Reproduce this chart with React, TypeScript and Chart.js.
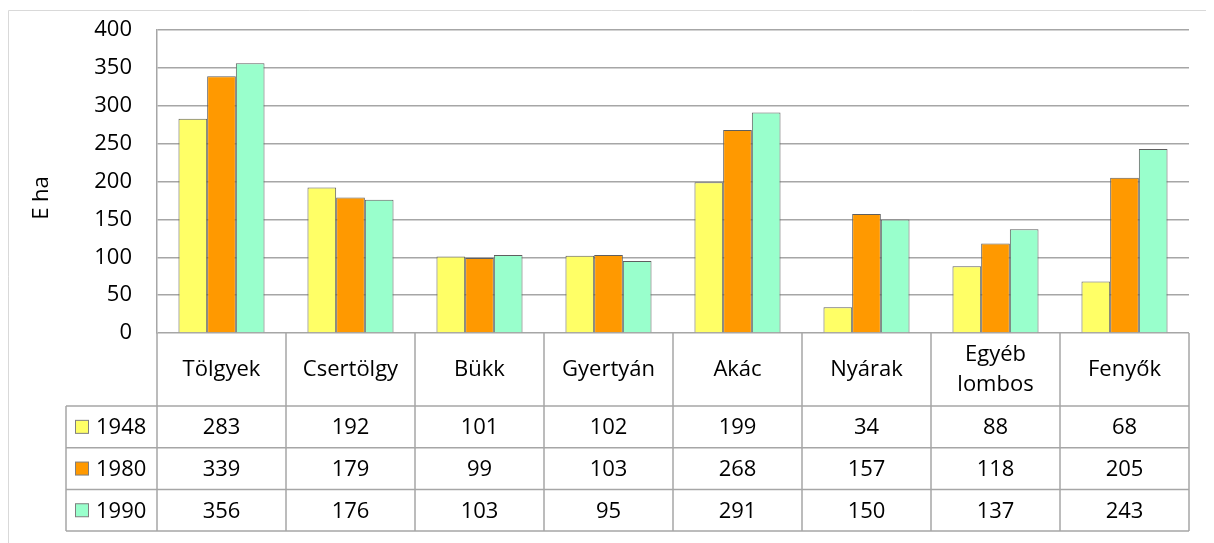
import React, { useEffect, useRef } from "react";
import { Chart, registerables } from "chart.js";

Chart.register(...registerables);

const categories = ["Tölgyek", "Csertölgy", "Bükk", "Gyertyán", "Akác", "Nyárak", "Egyéb\nlombos", "Fenyők"];
const seriesNames = ["1948", "1980", "1990"];
const values1948 = [283, 192, 101, 102, 199, 34, 88, 68];
const values1980 = [339, 179, 99, 103, 268, 157, 118, 205];
const values1990 = [356, 176, 103, 95, 291, 150, 137, 243];
const seriesColors = ["#FFFF66", "#FF9900", "#99FFCC"];
const yTitle = "E ha";

const FONT = "'Open Sans', 'Noto Sans', sans-serif";
const GRID = "#a6a6a6";

const tablePlugin = {
  id: "dataTable",
  afterDraw(chart: any) {
    const ctx = chart.ctx as CanvasRenderingContext2D;
    const area = chart.chartArea;
    const xs = chart.scales.x;
    const n = categories.length;
    const left = area.left;
    const right = area.right;
    const colW = (right - left) / n;
    const headerTop = area.bottom;
    const headerBottom = 398;
    const rowH = 41.7;
    const legendLeft = 58;
    ctx.save();
    // outer frame
    ctx.strokeStyle = "#d9d9d9";
    ctx.lineWidth = 1;
    ctx.beginPath();
    ctx.moveTo(0.5, chart.height);
    ctx.lineTo(0.5, 2.5);
    ctx.lineTo(chart.width, 2.5);
    ctx.stroke();

    ctx.strokeStyle = GRID;
    ctx.lineWidth = 1.5;
    ctx.beginPath();
    for (let i = 0; i <= n; i++) {
      const x = left + i * colW;
      ctx.moveTo(x, headerTop);
      ctx.lineTo(x, headerBottom + rowH * 3);
    }
    ctx.moveTo(legendLeft, headerBottom);
    ctx.lineTo(legendLeft, headerBottom + rowH * 3);
    for (let r = 0; r <= 3; r++) {
      const y = headerBottom + r * rowH;
      ctx.moveTo(legendLeft, y);
      ctx.lineTo(right, y);
    }
    ctx.stroke();

    ctx.fillStyle = "#000";
    ctx.font = `22px ${FONT}`;
    ctx.textAlign = "center";
    ctx.textBaseline = "middle";
    categories.forEach((c, i) => {
      const cx = xs.getPixelForValue(i);
      const lines = c.split("\n");
      const mid = (headerTop + headerBottom) / 2;
      const lh = 30;
      lines.forEach((ln, k) => {
        ctx.fillText(ln, cx, mid + (k - (lines.length - 1) / 2) * lh);
      });
    });
    const data = [values1948, values1980, values1990];
    data.forEach((vals, r) => {
      const cy = headerBottom + r * rowH + rowH / 2;
      vals.forEach((v, i) => {
        ctx.fillText(String(v), xs.getPixelForValue(i), cy + 1);
      });
      ctx.fillStyle = seriesColors[r];
      ctx.fillRect(67.5, cy - 6.5, 13, 13);
      ctx.strokeStyle = "#7f7f7f";
      ctx.lineWidth = 1;
      ctx.strokeRect(67.5, cy - 6.5, 13, 13);
      ctx.fillStyle = "#000";
      ctx.textAlign = "left";
      ctx.fillText(seriesNames[r], 88, cy + 1);
      ctx.textAlign = "center";
    });

    ctx.save();
    ctx.translate(34, 190);
    ctx.rotate(-Math.PI / 2);
    ctx.textAlign = "center";
    ctx.textBaseline = "middle";
    ctx.font = `22px ${FONT}`;
    ctx.fillText(yTitle, 0, 0);
    ctx.restore();
    ctx.restore();
  },
};

export default function App() {
  const ref = useRef<HTMLCanvasElement>(null);
  useEffect(() => {
    if (!ref.current) return;
    const chart = new Chart(ref.current, {
      type: "bar",
      data: {
        labels: categories.map((c) => c.replace("\n", " ")),
        datasets: [values1948, values1980, values1990].map((vals, i) => ({
          label: seriesNames[i],
          data: vals,
          backgroundColor: seriesColors[i],
          borderColor: "#5f5f5f",
          borderWidth: 1,
          categoryPercentage: 0.667,
          barPercentage: 1,
        })),
      },
      options: {
        animation: false,
        responsive: true,
        maintainAspectRatio: false,
        layout: { padding: { left: 0, right: 25, top: 22, bottom: 210 } },
        plugins: { legend: { display: false }, tooltip: { enabled: false } },
        scales: {
          x: {
            display: false,
            grid: { display: false },
          },
          y: {
            min: 0,
            max: 400,
            ticks: {
              stepSize: 50,
              padding: 25,
              color: "#000",
              font: { family: FONT, size: 22 },
            },
            grid: { color: GRID, lineWidth: 1.5, drawTicks: false },
            border: { color: GRID, width: 1.5 },
            afterFit: (s: any) => {
              s.width = 149;
              s.paddingTop = 13;
              s.paddingBottom = 13;
            },
          },
        },
      },
      plugins: [tablePlugin],
    });
    return () => chart.destroy();
  }, []);
  return (
    <div style={{ width: 1206, height: 535 }}>
      <canvas ref={ref} />
    </div>
  );
}
